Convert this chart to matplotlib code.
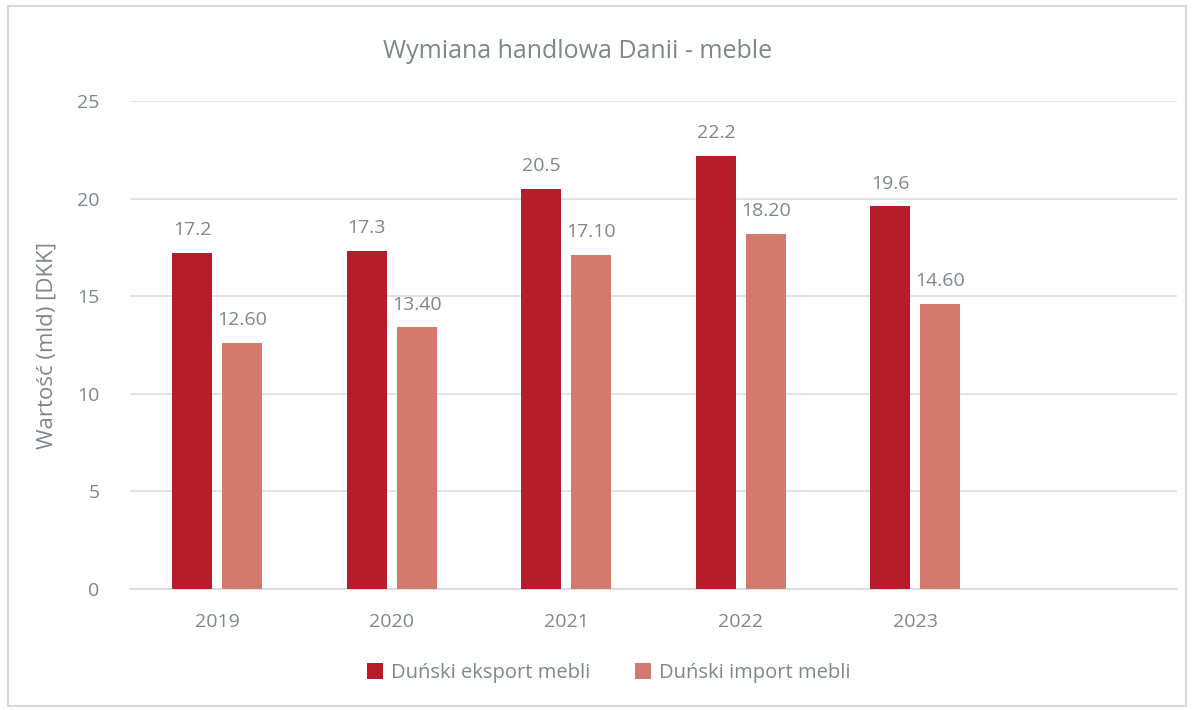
import matplotlib.pyplot as plt
import numpy as np
from matplotlib.patches import Rectangle

years = ['2019', '2020', '2021', '2022', '2023']
eksport = [17.2, 17.3, 20.5, 22.2, 19.6]
import_ = [12.6, 13.4, 17.1, 18.2, 14.6]

plt.rcParams['font.family'] = ['Open Sans', 'DejaVu Sans']
txt = '#7f868c'

fig = plt.figure(figsize=(11.94, 7.10), dpi=100)
ax = fig.add_axes([0.1089, 0.1704, 0.877, 0.6873])

x = np.arange(len(years))
w = 0.229
off = 0.143
b1 = ax.bar(x - off, eksport, w, color='#b71c2b', label='Duński eksport mebli', zorder=3)
b2 = ax.bar(x + off, import_, w, color='#d3796d', label='Duński import mebli', zorder=3)

for r, v in zip(b1, eksport):
    ax.annotate(f'{v:.1f}', (r.get_x() + r.get_width() / 2, v), xytext=(0, 10),
                textcoords='offset points', ha='center', va='bottom', fontsize=14, color=txt)
for r, v in zip(b2, import_):
    ax.annotate(f'{v:.2f}', (r.get_x() + r.get_width() / 2, v), xytext=(0, 10),
                textcoords='offset points', ha='center', va='bottom', fontsize=14, color=txt)

ax.set_xlim(-0.5, 5.5)
ax.set_ylim(0, 25)
ax.set_yticks(range(0, 26, 5))
ax.set_xticks(x)
ax.set_xticklabels(years)
ax.tick_params(length=0, labelsize=14, colors=txt, pad=17)
ax.tick_params(axis='y', pad=22)
ax.grid(axis='y', color='#dedede', lw=1.2, zorder=0)
for s in ['top', 'right', 'left']:
    ax.spines[s].set_visible(False)
ax.spines['bottom'].set_color('#d9d9d9')
ax.spines['bottom'].set_linewidth(1.2)

ax.set_ylabel('Wartość (mld) [DKK]', fontsize=16, color=txt, labelpad=14)
fig.text(0.484, 0.927, 'Wymiana handlowa Danii - meble', ha='center', va='center',
         fontsize=18, color=txt)

fig.legend(handles=[b1, b2], loc='center', bbox_to_anchor=(0.51, 0.052), ncol=2,
           frameon=False, fontsize=14.5, labelcolor=txt, handlelength=0.8, handleheight=0.8,
           handletextpad=0.4, columnspacing=2.2)

fig.patches.append(Rectangle((0.007, 0.006), 0.986, 0.985, transform=fig.transFigure,
                             fill=False, edgecolor='#d9d9d9', lw=1.5))

fig.savefig('out.png', dpi=100)
